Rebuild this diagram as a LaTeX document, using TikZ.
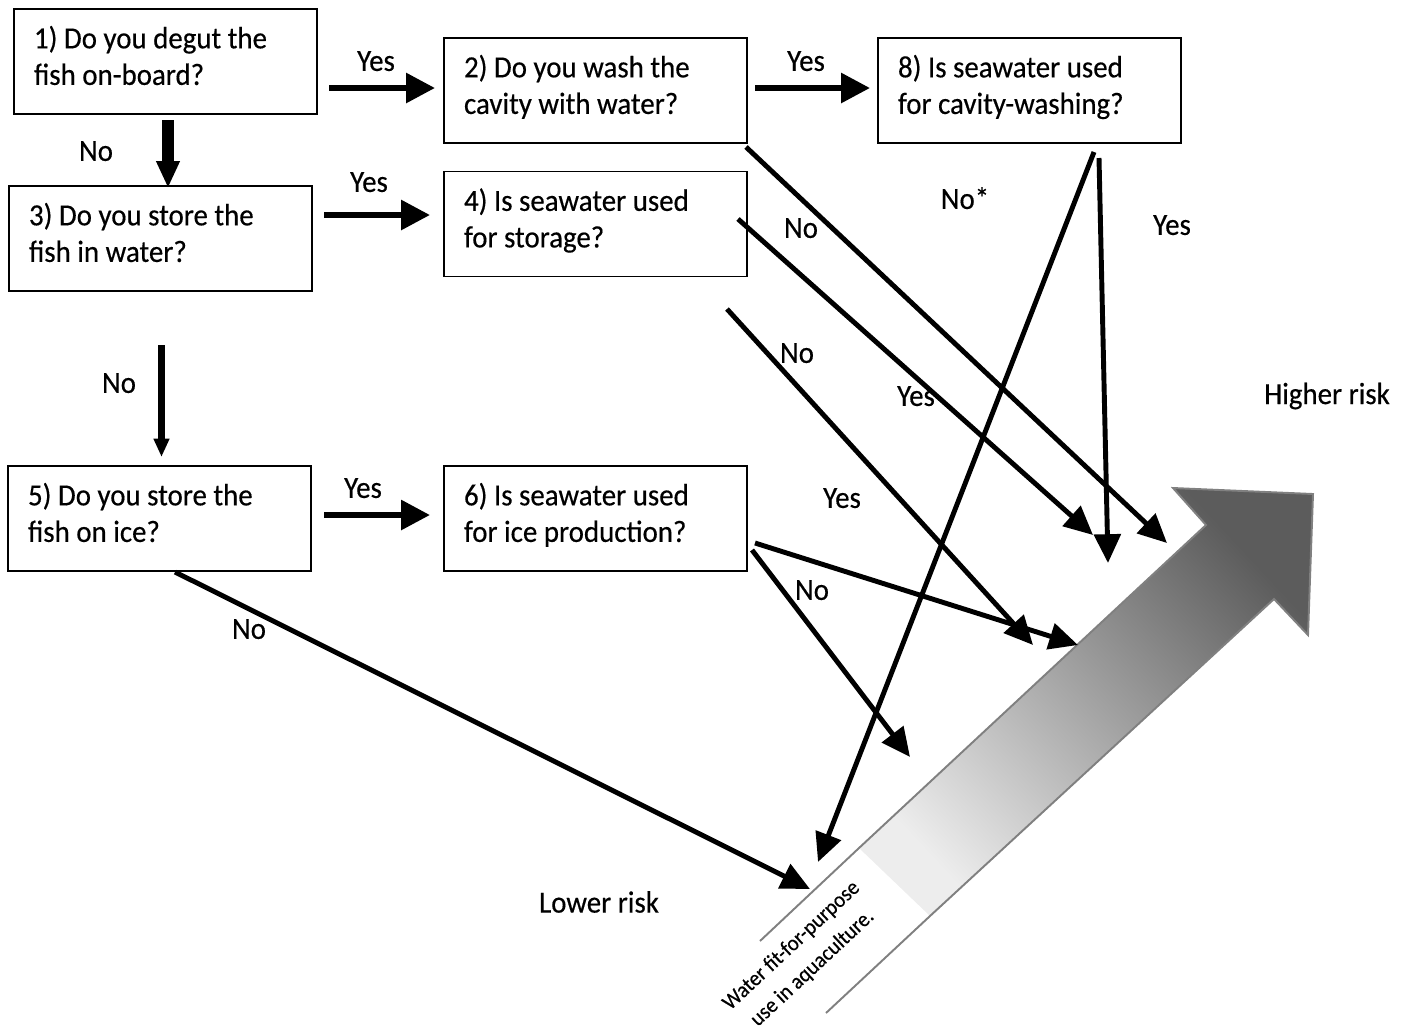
\documentclass[tikz,border=0pt]{standalone}
\usepackage{fontspec}
\setmainfont{Carlito}[FakeStretch=0.94,FakeBold=0.4]
\usetikzlibrary{arrows.meta}
\tikzset{
  qbox/.style={draw=black,line width=0.85pt,text width=5.26cm,inner xsep=0.4cm,minimum height=2.1cm,
    align=flush left,text height=12pt,text depth=27pt},
  fat/.style={->,>={Triangle[length=16.4pt,width=16.4pt]},line width=3.4pt},
  fatdown/.style={->,>={Triangle[length=15.3pt,width=12.5pt]},line width=6.8pt},
  slimdown/.style={->,>={Triangle[length=10.4pt,width=8.4pt]},line width=4pt},
  diag/.style={->,>={Triangle[length=16.4pt,width=15pt]},line width=2.8pt},
  lbl/.style={text depth=0pt,inner sep=1pt},
  edgeline/.style={draw=gray,line width=1.1pt}
}
\begin{document}
\begin{tikzpicture}[x=0.02cm,y=-0.02cm,font=\fontsize{17.5}{20.8}\selectfont]
\useasboundingbox (0,0) rectangle (1405,1032);
% \draw[help lines,step=100] (0,0) grid (1405,1032);
% risk arrow
\coordinate (au) at (859,848);
\coordinate (ai1) at (1206,525);
\coordinate (ab1) at (1173,488);
\coordinate (at) at (1313,494);
\coordinate (ab2) at (1308,635);
\coordinate (ai2) at (1274,599);
\coordinate (al) at (930,916);
\coordinate (aue) at (760,941);
\coordinate (ale) at (826,1013);
\shade[bottom color=black!7,top color=black!64,shading angle=-47]
  (au) -- (ai1) -- (ab1) -- (at) -- (ab2) -- (ai2) -- (al) -- cycle;
\draw[edgeline] (aue) -- (au) -- (ai1) -- (ab1) -- (at) -- (ab2) -- (ai2) -- (al) -- (ale);
\node (water) [rotate=43,align=center,font=\fontsize{12.5}{17.5}\selectfont] at (802,957)
  {Water fit-for-purpose\\use in aquaculture.};
\node (hi) at (1327,396) {Higher risk};
\node (lo) at (599,902) {Lower risk};
%
% questions
\node (q1) [qbox] at (165.5,61.5) {1) Do you degut the\\fish on-board?};
\node (q2) [qbox] at (595.5,90.5) {2) Do you wash the\\cavity with water?};
\node (q8) [qbox] at (1029.5,90.5) {8) Is seawater used\\for cavity-washing?};
\node (q3) [qbox] at (160.5,238.5) {3) Do you store the\\fish in water?};
\node (q4) [qbox] at (595.5,224) {4) Is seawater used\\for storage?};
\node (q5) [qbox] at (159.5,518.5) {5) Do you store the\\fish on ice?};
\node (q6) [qbox] at (595.5,518.5) {6) Is seawater used\\for ice production?};
%
% straight answers
\coordinate (yes1a) at (329,88);   \coordinate (yes1b) at (435,88);
\coordinate (yes2a) at (755,88);   \coordinate (yes2b) at (870,88);
\coordinate (yes3a) at (324,215);  \coordinate (yes3b) at (430,215);
\coordinate (yes5a) at (324,515);  \coordinate (yes5b) at (430,515);
\coordinate (no1a) at (168,120);   \coordinate (no1b) at (168,188);
\coordinate (no3a) at (161.5,345); \coordinate (no3b) at (161.5,457);
\path[fat] (yes1a) edge (yes1b);
\path[fat] (yes2a) edge (yes2b);
\path[fat] (yes3a) edge (yes3b);
\path[fat] (yes5a) edge (yes5b);
\path[fatdown] (no1a) edge (no1b);
\path[slimdown] (no3a) edge (no3b);
\node (lyes1) [lbl] at (376,61) {Yes};
\node (lyes2) [lbl] at (806,61) {Yes};
\node (lyes3) [lbl] at (369,182) {Yes};
\node (lyes5) [lbl] at (363,488) {Yes};
\node (lno1) [lbl] at (96,151) {No};
\node (lno3) [lbl] at (119,383) {No};
%
% answers towards the risk arrow
\coordinate (no2a) at (746,147);   \coordinate (no2b) at (1167,543);
\coordinate (yes4a) at (738,219);  \coordinate (yes4b) at (1093,535);
\coordinate (no4a) at (727,309);   \coordinate (no4b) at (1033,645);
\coordinate (yes6a) at (755,543);  \coordinate (yes6b) at (1078,645);
\coordinate (no6a) at (752,550);   \coordinate (no6b) at (910,757);
\coordinate (no8a) at (1094,152);  \coordinate (no8b) at (818,862);
\coordinate (yes8a) at (1099,158); \coordinate (yes8b) at (1108,563);
\coordinate (no5a) at (175,572);   \coordinate (no5b) at (810,889);
\path[diag] (no2a) edge (no2b);
\path[diag] (yes4a) edge (yes4b);
\path[diag] (no4a) edge (no4b);
\path[diag] (yes6a) edge (yes6b);
\path[diag] (no6a) edge (no6b);
\path[diag] (no8a) edge (no8b);
\path[diag] (yes8a) edge (yes8b);
\path[diag] (no5a) edge (no5b);
\node (lno2) [lbl] at (801,228) {No};
\node (lyes4) [lbl] at (916,396) {Yes};
\node (lno4) [lbl] at (797,353) {No};
\node (lyes6) [lbl] at (842,498) {Yes};
\node (lno6) [lbl] at (812,590) {No};
\node (lno8) [lbl] at (965,198) {No*};
\node (lyes8) [lbl] at (1172,225) {Yes};
\node (lno5) [lbl] at (249,629) {No};
\end{tikzpicture}
\end{document}
